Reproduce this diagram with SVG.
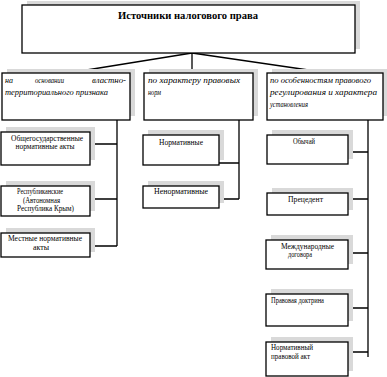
<svg xmlns="http://www.w3.org/2000/svg" width="387" height="377" viewBox="0 0 387 377">
<style>
.sh{fill:#d9d9d9;stroke:none}
.bx{fill:#fff;stroke:#000;stroke-width:1.3}
.ln{stroke:#000;stroke-width:1.3;fill:none}
.t{font-family:"Liberation Serif","Times New Roman",serif;font-size:7.5px;fill:#000}
.c{text-anchor:middle}
.i{font-family:"Liberation Serif","Times New Roman",serif;font-size:8px;font-style:italic;fill:#000}
.h{font-family:"Liberation Serif","Times New Roman",serif;font-size:10.5px;font-weight:bold;fill:#000;text-anchor:middle}
</style>
<rect width="387" height="377" fill="#fff"/>
<g id="connectors">
<path class="ln" d="M192,53 L68,73 M192,53 L192,73 M192,53 L329,73"/>
<path class="ln" d="M117,117 V246 M90,144 H117 M90,199 H117 M90,246 H117"/>
<path class="ln" d="M239,117 V199 M219,163 H239 M219,199 H239"/>
<path class="ln" d="M368,117 V357 M348,152 H368 M348,199 H368 M348,253 H368 M348,308 H368 M348,352 H368"/>
</g>
<g id="root">
<rect class="sh" x="27" y="1" width="333" height="48"/>
<rect class="bx" x="22" y="5" width="333" height="48"/>
<text class="h" x="188" y="19" textLength="140" lengthAdjust="spacingAndGlyphs">Источники налогового права</text>
</g>
<g id="cat1">
<rect class="sh" x="7" y="69" width="128" height="47"/>
<rect class="bx" x="2" y="73" width="128" height="47"/>
<text class="i" y="83"><tspan x="5">на</tspan><tspan x="35" textLength="29" lengthAdjust="spacingAndGlyphs">основании</tspan><tspan x="92" textLength="34" lengthAdjust="spacingAndGlyphs">властно-</tspan></text>
<text class="i" x="5" y="95" textLength="103" lengthAdjust="spacingAndGlyphs">территориального признака</text>
</g>
<g id="cat2">
<rect class="sh" x="149" y="69" width="109" height="47"/>
<rect class="bx" x="144" y="73" width="109" height="47"/>
<text class="i" x="148" y="83" textLength="92" lengthAdjust="spacingAndGlyphs">по характеру правовых</text>
<text class="i" x="148" y="95" textLength="13" lengthAdjust="spacingAndGlyphs">норм</text>
</g>
<g id="cat3">
<rect class="sh" x="272" y="69" width="116" height="47"/>
<rect class="bx" x="267" y="73" width="116" height="47"/>
<text class="i" x="270" y="83" textLength="101" lengthAdjust="spacingAndGlyphs">по особенностям правового</text>
<text class="i" x="270" y="95" textLength="107" lengthAdjust="spacingAndGlyphs">регулирования и характера</text>
<text class="i" x="270" y="107" textLength="38" lengthAdjust="spacingAndGlyphs">установления</text>
</g>
<g id="l1">
<rect class="sh" x="6" y="127" width="89" height="33"/>
<rect class="bx" x="1" y="132" width="89" height="33"/>
<text class="t c" x="47" y="141" textLength="72" lengthAdjust="spacingAndGlyphs">Общегосударственные</text>
<text class="t c" x="45" y="149" textLength="59" lengthAdjust="spacingAndGlyphs">нормативные акты</text>
</g>
<g id="l2">
<rect class="sh" x="6" y="181" width="89" height="30"/>
<rect class="bx" x="1" y="186" width="89" height="30"/>
<text class="t c" x="40" y="194" textLength="46" lengthAdjust="spacingAndGlyphs">Республиканские</text>
<text class="t c" x="41.5" y="203" textLength="37" lengthAdjust="spacingAndGlyphs">(Автономная</text>
<text class="t c" x="45.5" y="211" textLength="57" lengthAdjust="spacingAndGlyphs">Республика Крым)</text>
</g>
<g id="l3">
<rect class="sh" x="6" y="228" width="89" height="24"/>
<rect class="bx" x="1" y="233" width="89" height="24"/>
<text class="t c" x="45" y="241" textLength="74" lengthAdjust="spacingAndGlyphs">Местные нормативные</text>
<text class="t c" x="41" y="250" textLength="16" lengthAdjust="spacingAndGlyphs">акты</text>
</g>
<g id="m1">
<rect class="sh" x="148" y="130" width="76" height="30"/>
<rect class="bx" x="143" y="135" width="76" height="30"/>
<text class="t c" x="181" y="145" textLength="44" lengthAdjust="spacingAndGlyphs">Нормативные</text>
</g>
<g id="m2">
<rect class="sh" x="148" y="181" width="76" height="22"/>
<rect class="bx" x="143" y="186" width="76" height="22"/>
<text class="t c" x="181" y="194" textLength="54" lengthAdjust="spacingAndGlyphs">Ненормативные</text>
</g>
<g id="r1">
<rect class="sh" x="272" y="130" width="81" height="29"/>
<rect class="bx" x="267" y="135" width="81" height="29"/>
<text class="t c" x="304" y="144" textLength="22" lengthAdjust="spacingAndGlyphs">Обычай</text>
</g>
<g id="r2">
<rect class="sh" x="272" y="188" width="81" height="22"/>
<rect class="bx" x="267" y="193" width="81" height="22"/>
<text class="t c" x="305.5" y="202" textLength="35" lengthAdjust="spacingAndGlyphs">Прецедент</text>
</g>
<g id="r3">
<rect class="sh" x="271" y="235" width="82" height="29"/>
<rect class="bx" x="266" y="240" width="82" height="29"/>
<text class="t c" x="307.5" y="249" textLength="53" lengthAdjust="spacingAndGlyphs">Международные</text>
<text class="t c" x="300" y="257" textLength="24" lengthAdjust="spacingAndGlyphs">договора</text>
</g>
<g id="r4">
<rect class="sh" x="271" y="289" width="82" height="32"/>
<rect class="bx" x="266" y="294" width="82" height="32"/>
<text class="t" x="271" y="303" textLength="53" lengthAdjust="spacingAndGlyphs">Правовая доктрина</text>
</g>
<g id="r5">
<rect class="sh" x="271" y="337" width="82" height="34"/>
<rect class="bx" x="266" y="342" width="82" height="34"/>
<text class="t" x="271" y="350" textLength="42" lengthAdjust="spacingAndGlyphs">Нормативный</text>
<text class="t" x="271" y="359" textLength="39" lengthAdjust="spacingAndGlyphs">правовой акт</text>
</g>
</svg>
